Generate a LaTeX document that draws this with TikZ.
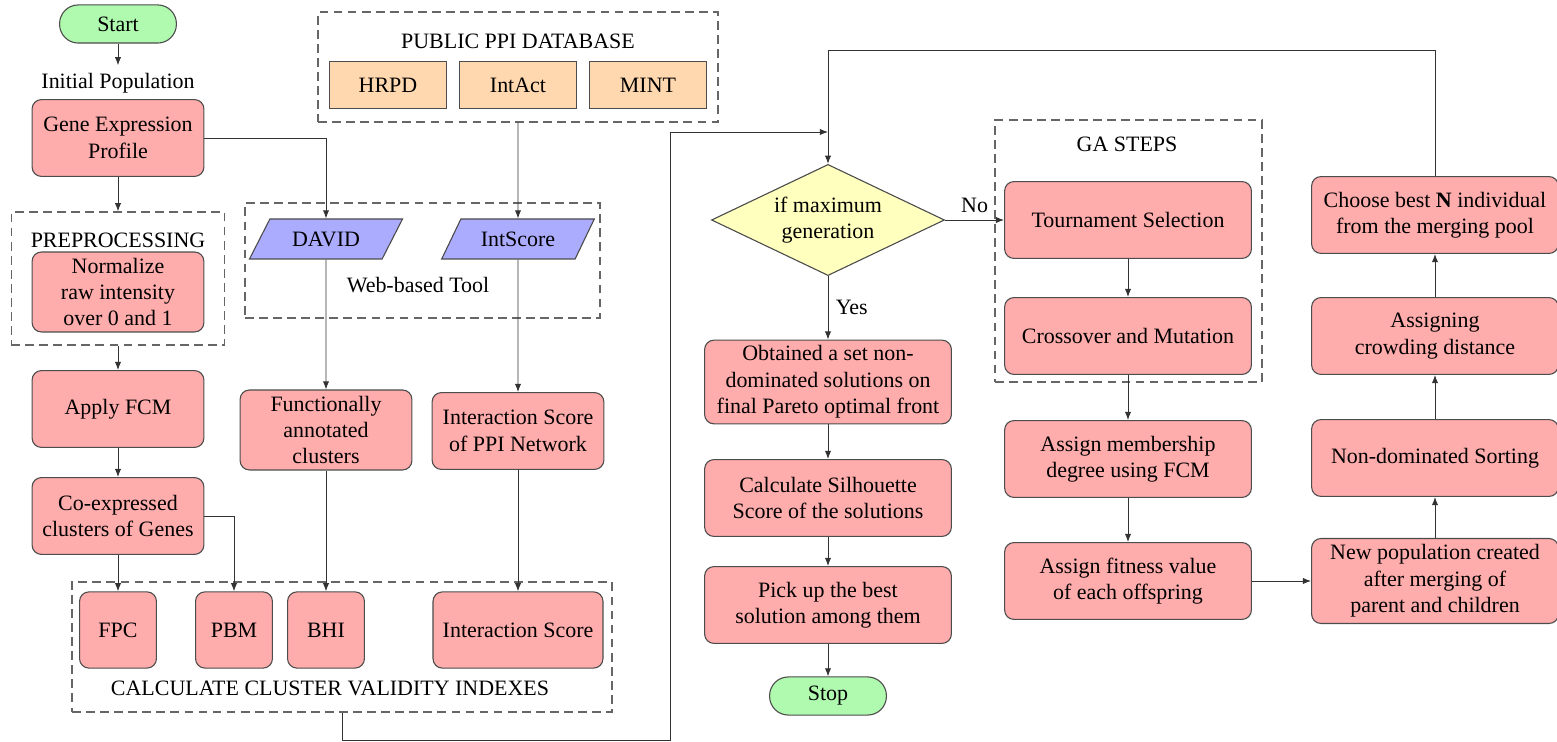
\documentclass[tikz,border=0pt]{standalone}
\usepackage{fontspec}
\setmainfont{Liberation Serif}
\usepackage{tikz}
\usetikzlibrary{positioning,arrows.meta,shapes.geometric,calc}
\definecolor{boxpink}{RGB}{255,172,172}
\definecolor{termgreen}{RGB}{176,250,176}
\definecolor{dborange}{RGB}{255,216,176}
\definecolor{toolblue}{RGB}{172,172,255}
\definecolor{decyellow}{RGB}{255,255,190}

\begin{document}
\begin{tikzpicture}[x=0.016cm,y=-0.016cm,>={Latex[length=1.3mm,width=1mm]},
  proc/.style={draw=black!70,fill=boxpink,rounded corners=1.5mm,align=center,
    minimum width=27.5mm,minimum height=12.3mm,inner sep=1pt,line width=0.5pt},
  wide/.style={minimum width=39.5mm},
  term/.style={draw=black!70,fill=termgreen,rounded corners=3mm,line width=0.5pt,
    minimum width=18.7mm,minimum height=6.1mm},
  dbbox/.style={draw=black!70,fill=dborange,minimum width=18.6mm,minimum height=7.4mm,line width=0.5pt},
  toolbox/.style={trapezium,trapezium left angle=63,trapezium right angle=117,
    trapezium stretches=true,draw=black!70,fill=toolblue,line width=0.5pt,
    minimum width=24.5mm,minimum height=6.4mm},
  decision/.style={diamond,draw=black!70,fill=decyellow,aspect=2.1,inner sep=0pt,
    minimum width=37.3mm,minimum height=17.8mm,align=center,line width=0.5pt},
  groupbox/.style={draw=black!60,dash pattern=on 4pt off 2.4pt,line width=0.6pt},
  link/.style={->,draw=black!80}]
  \useasboundingbox (0,0) rectangle (1557,742);

  % clustering side
  \node[term] (start) at (118,24) {Start};
  \node (init) at (118,83) {Initial Population};
  \node[proc] (gene) at (118,138) {Gene Expression\\Profile};
  \node[groupbox,minimum width=34.2mm,minimum height=21.3mm] (prep) at (118,278.5) {};
  \node (preptitle) at (118,240) {PREPROCESSING};
  \node[proc,minimum height=12.8mm] (norm) at (118,292) {Normalize\\raw intensity\\over 0 and 1};
  \node[proc] (fcm) at (118,409) {Apply FCM};
  \node[proc] (coexp) at (118,516) {Co-expressed\\clusters of Genes};

  % databases and tools
  \node[groupbox,minimum width=64mm,minimum height=17.6mm] (ppi) at (518,67) {};
  \node (ppititle) at (518,41) {PUBLIC PPI DATABASE};
  \foreach \x/\name in {388/HRPD,518/IntAct,648/MINT}
    \node[dbbox] (d\name) at (\x,85) {\name};
  \node[groupbox,minimum width=56.8mm,minimum height=18.4mm] (web) at (422.5,260.5) {};
  \node[toolbox] (david) at (326,239) {DAVID};
  \node[toolbox] (intscore) at (518,239) {IntScore};
  \node (webtitle) at (418,285) {Web-based Tool};
  \node[proc,minimum height=12.8mm] (func) at (326,430) {Functionally\\annotated\\clusters};
  \node[proc] (ppinet) at (518,431) {Interaction Score\\of PPI Network};

  % validity indexes
  \node[groupbox,minimum width=86.4mm,minimum height=20.8mm] (calc) at (342,647) {};
  \node[proc,minimum width=12.3mm,minimum height=12.2mm] (fpc) at (118,630) {FPC};
  \node[proc,minimum width=12.3mm,minimum height=12.2mm] (pbm) at (234,630) {PBM};
  \node[proc,minimum width=12.3mm,minimum height=12.2mm] (bhi) at (326,630) {BHI};
  \node[proc,minimum width=27.2mm,minimum height=12.2mm] (iscore) at (518,630) {Interaction Score};
  \node (calctitle) at (330,688) {CALCULATE CLUSTER VALIDITY INDEXES};

  % optimisation
  \node[decision] (maxgen) at (828,220) {if maximum\\generation};
  \node[proc,wide,minimum height=13.4mm] (pareto) at (828,382) {Obtained a set non-\\dominated solutions on\\final Pareto optimal front};
  \node[proc,wide] (silh) at (828,498) {Calculate Silhouette\\Score of the solutions};
  \node[proc,wide] (pick) at (828,605) {Pick up the best\\solution among them};
  \node[term] (stop) at (828,696) {Stop};
  \node[groupbox,minimum width=42.7mm,minimum height=41.9mm] (ga) at (1128.5,251) {};
  \node (gatitle) at (1127,144) {GA STEPS};
  \node[proc,wide] (tour) at (1128,220) {Tournament Selection};
  \node[proc,wide] (cross) at (1128,336) {Crossover and Mutation};
  \node[proc,wide] (member) at (1128,459) {Assign membership\\degree using FCM};
  \node[proc,wide] (fitval) at (1128,581) {Assign fitness value\\of each offspring};
  \node[proc,wide,minimum height=13.6mm] (newpop) at (1435,581) {New population created\\after merging of\\parent and children};
  \node[proc,wide] (nondom) at (1435,458) {Non-dominated Sorting};
  \node[proc,wide] (crowd) at (1435,336) {Assigning\\crowding distance};
  \node[proc,wide] (best) at (1435,215) {Choose best \textbf{N} individual\\from the merging pool};

  \coordinate (topturn) at (828,50);
  \coordinate (lowturn) at (670,740);
  \coordinate (merge) at (828,132);

  \draw[link] (start) -- (init);
  \draw[link] (gene) -- (prep);
  \draw[link] (prep) -- (fcm);
  \draw[link] (fcm) -- (coexp);
  \draw[link] (coexp) -- (fpc);
  \draw[link] (coexp.east) -| (pbm.north);
  \draw[link] (gene.east) -| (david.north);
  \draw[link] (ppi) -- (intscore);
  \draw[link] (david) -- (func);
  \draw[link] (intscore) -- (ppinet);
  \draw[link] (func) -- (bhi);
  \draw[link] (ppinet) -- (iscore);
  \draw[link] (calc.south) |- (lowturn) |- (merge);
  \draw[link] (best.north) |- (topturn) -- (maxgen.north);
  \draw[link] (maxgen) -- node[right]{Yes} (pareto);
  \draw[link] (maxgen) -- node[above]{No} (tour);
  \draw[link] (pareto) -- (silh);
  \draw[link] (silh) -- (pick);
  \draw[link] (pick) -- (stop);
  \draw[link] (tour) -- (cross);
  \draw[link] (cross) -- (member);
  \draw[link] (member) -- (fitval);
  \draw[link] (fitval) -- (newpop);
  \draw[link] (newpop) -- (nondom);
  \draw[link] (nondom) -- (crowd);
  \draw[link] (crowd) -- (best);
\end{tikzpicture}
\end{document}
